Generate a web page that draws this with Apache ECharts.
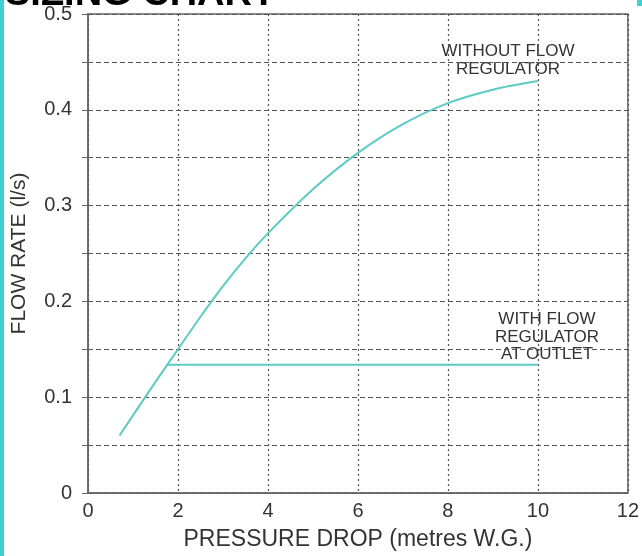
<!DOCTYPE html>
<html>
<head>
<meta charset="utf-8">
<script src="https://cdn.jsdelivr.net/npm/echarts@6/dist/echarts.min.js"></script>
<style>
    html, body { margin: 0; padding: 0; background: #fff; }
    #chart { width: 642px; height: 556px; }
</style>
</head>
<body>
<div id="chart"></div>
<script>
// pressure drop (m W.G.) vs flow rate (l/s)
var withoutRegulatorX = [0.7, 1.0, 1.5, 2.0, 2.5, 3.0, 3.5, 4.0, 5.0, 6.0, 7.0, 8.0, 9.0, 10.0];
var withoutRegulatorY = [0.06, 0.081, 0.116, 0.15, 0.184, 0.216, 0.245, 0.271, 0.317, 0.355, 0.385, 0.407, 0.421, 0.43];
var withRegulatorX = [1.77, 10.0];
var withRegulatorY = [0.134, 0.134];

var lineColor = '#5ccbc5';
var gridColor = '#555';
var font = 'Liberation Sans, Arial, sans-serif';

function pairs(xs, ys) {
    var out = [];
    for (var i = 0; i < xs.length; i++) {
        out.push([xs[i], ys[i]]);
    }
    return out;
}

var option = {
    animation: false,
    backgroundColor: '#fff',
    textStyle: { fontFamily: font },
    grid: {
        left: 88,
        right: 12,
        top: 14,
        bottom: 62,
        show: true,
        borderColor: '#666',
        borderWidth: 1.5
    },
    xAxis: {
        type: 'value',
        min: 0,
        max: 12,
        interval: 2,
        name: 'PRESSURE DROP (metres W.G.)',
        nameLocation: 'middle',
        nameGap: 35,
        nameTextStyle: { fontSize: 23, color: '#333' },
        axisLine: { show: true, lineStyle: { color: '#666', width: 1.5 } },
        axisTick: { show: false },
        axisLabel: { fontSize: 20, color: '#333', margin: 8 },
        splitLine: { show: true, lineStyle: { color: gridColor, type: [2, 3], width: 1.2 } }
    },
    yAxis: {
        type: 'value',
        min: 0,
        max: 0.5,
        interval: 0.05,
        name: 'FLOW RATE (l/s)',
        nameLocation: 'middle',
        nameGap: 58,
        nameTextStyle: { fontSize: 21, color: '#333' },
        axisLine: { show: true, lineStyle: { color: '#666', width: 1.5 } },
        axisTick: { show: true, length: 6, lineStyle: { color: '#666' } },
        axisLabel: {
            fontSize: 20,
            color: '#333',
            margin: 16,
            formatter: function(v) {
                var k = Math.round(v * 100);
                if (k % 10 !== 0) return '';
                return k === 0 ? '0' : String(k / 100);
            }
        },
        splitLine: { show: true, lineStyle: { color: gridColor, type: [5, 3], width: 1.2 } }
    },
    series: [
        {
            name: 'WITHOUT FLOW REGULATOR',
            type: 'line',
            smooth: 0.3,
            showSymbol: false,
            lineStyle: { color: lineColor, width: 2 },
            data: pairs(withoutRegulatorX, withoutRegulatorY)
        },
        {
            name: 'WITH FLOW REGULATOR AT OUTLET',
            type: 'line',
            showSymbol: false,
            lineStyle: { color: lineColor, width: 2 },
            data: pairs(withRegulatorX, withRegulatorY)
        }
    ],
    graphic: [
        // cyan page border on the left edge
        { type: 'rect', left: 0, top: 0, shape: { width: 4, height: 556 }, style: { fill: '#3fd0d4' } },
        { type: 'rect', left: 637, top: 0, shape: { width: 5, height: 6 }, style: { fill: '#3fd0d4' } },
        // title, cut off at the top of the image
        {
            type: 'text', left: 5, top: -24,
            style: { text: 'SIZING CHART', font: 'bold 38px ' + font, fill: '#000' }
        },
        {
            type: 'text', x: 508, y: 42,
            style: {
                text: 'WITHOUT FLOW\nREGULATOR',
                font: '17px ' + font,
                fill: '#333', align: 'center', lineHeight: 18
            }
        },
        {
            type: 'text', x: 547, y: 311,
            style: {
                text: 'WITH FLOW\nREGULATOR\nAT OUTLET',
                font: '17px ' + font,
                fill: '#333', align: 'center', lineHeight: 17.5
            }
        }
    ]
};

var chart = echarts.init(document.getElementById('chart'));
chart.setOption(option);
</script>
</body>
</html>
